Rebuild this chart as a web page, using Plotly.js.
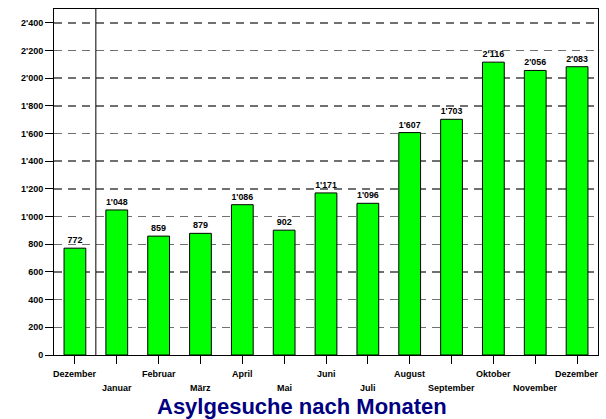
<!DOCTYPE html>
<html><head><meta charset="utf-8">
<script src="https://cdn.plot.ly/plotly-3.0.1.min.js"></script>
<style>html,body{margin:0;padding:0;background:#fff}#chart{width:606px;height:419px}</style>
</head><body><div id="chart"></div>
<script>
const months = ["Dezember","Januar","Februar","März","April","Mai","Juni","Juli","August","September","Oktober","November","Dezember"];
const values = [772,1048,859,879,1086,902,1171,1096,1607,1703,2116,2056,2083];
const yTicks = [0,200,400,600,800,1000,1200,1400,1600,1800,2000,2200,2400];
const title = "Asylgesuche nach Monaten";

const xs = months.map((m,i)=>i);
const font = {family:"Arial, 'Liberation Sans', sans-serif", size:9, color:"#000"};

const annotations = months.map((m,i)=>({
  x:i, xref:'x', y:0, yref:'paper', yanchor:'middle', xanchor:'center',
  yshift: (i%2===0) ? -19 : -33, text:'<b>'+m+'</b>', showarrow:false, font:font
}));
annotations.push({
  x:0.455, xref:'paper', xanchor:'center', y:0, yref:'paper', yanchor:'middle', yshift:-51,
  text:'<b>'+title+'</b>', showarrow:false,
  font:{family:"Arial, 'Liberation Sans', sans-serif", size:22, color:'#000080'}
});

const data = [{
  type:'bar', x:xs, y:values, width:0.52,
  marker:{color:'#00ff00', line:{color:'#000', width:1}},
  texttemplate:'<b>%{y:,d}</b>', textposition:'outside',
  textfont:font, cliponaxis:false, hoverinfo:'none'
}];

const layout = {
  width:606, height:419,
  margin:{l:54, r:8, t:9, b:64},
  separators:".'",
  paper_bgcolor:'#fff', plot_bgcolor:'#fff',
  showlegend:false,
  xaxis:{range:[-0.5,12.5], tickvals:xs, ticktext:months.map(()=>''), ticks:'outside', ticklen:8, tickcolor:'#000',
    showgrid:false, zeroline:false, showline:true, linecolor:'#000', linewidth:1, mirror:true, fixedrange:true},
  yaxis:{range:[0,2500], tickvals:yTicks,
    ticktext:yTicks.map(v=>'<b>'+String(v).replace(/\B(?=(\d{3})+(?!\d))/g,"'")+'</b>'),
    ticks:'outside', ticklen:8, tickcolor:'#000', tickfont:font,
    showgrid:true, gridcolor:'#707070', griddash:'8px,6px', gridwidth:1.5,
    zeroline:false, showline:true, linecolor:'#000', linewidth:1, mirror:true, fixedrange:true},
  annotations:annotations,
  shapes:[{type:'line', xref:'x', yref:'paper', x0:0.5, x1:0.5, y0:0, y1:1, line:{color:'#000', width:1}}]
};
Plotly.newPlot('chart', data, layout, {staticPlot:true});
</script></body></html>
